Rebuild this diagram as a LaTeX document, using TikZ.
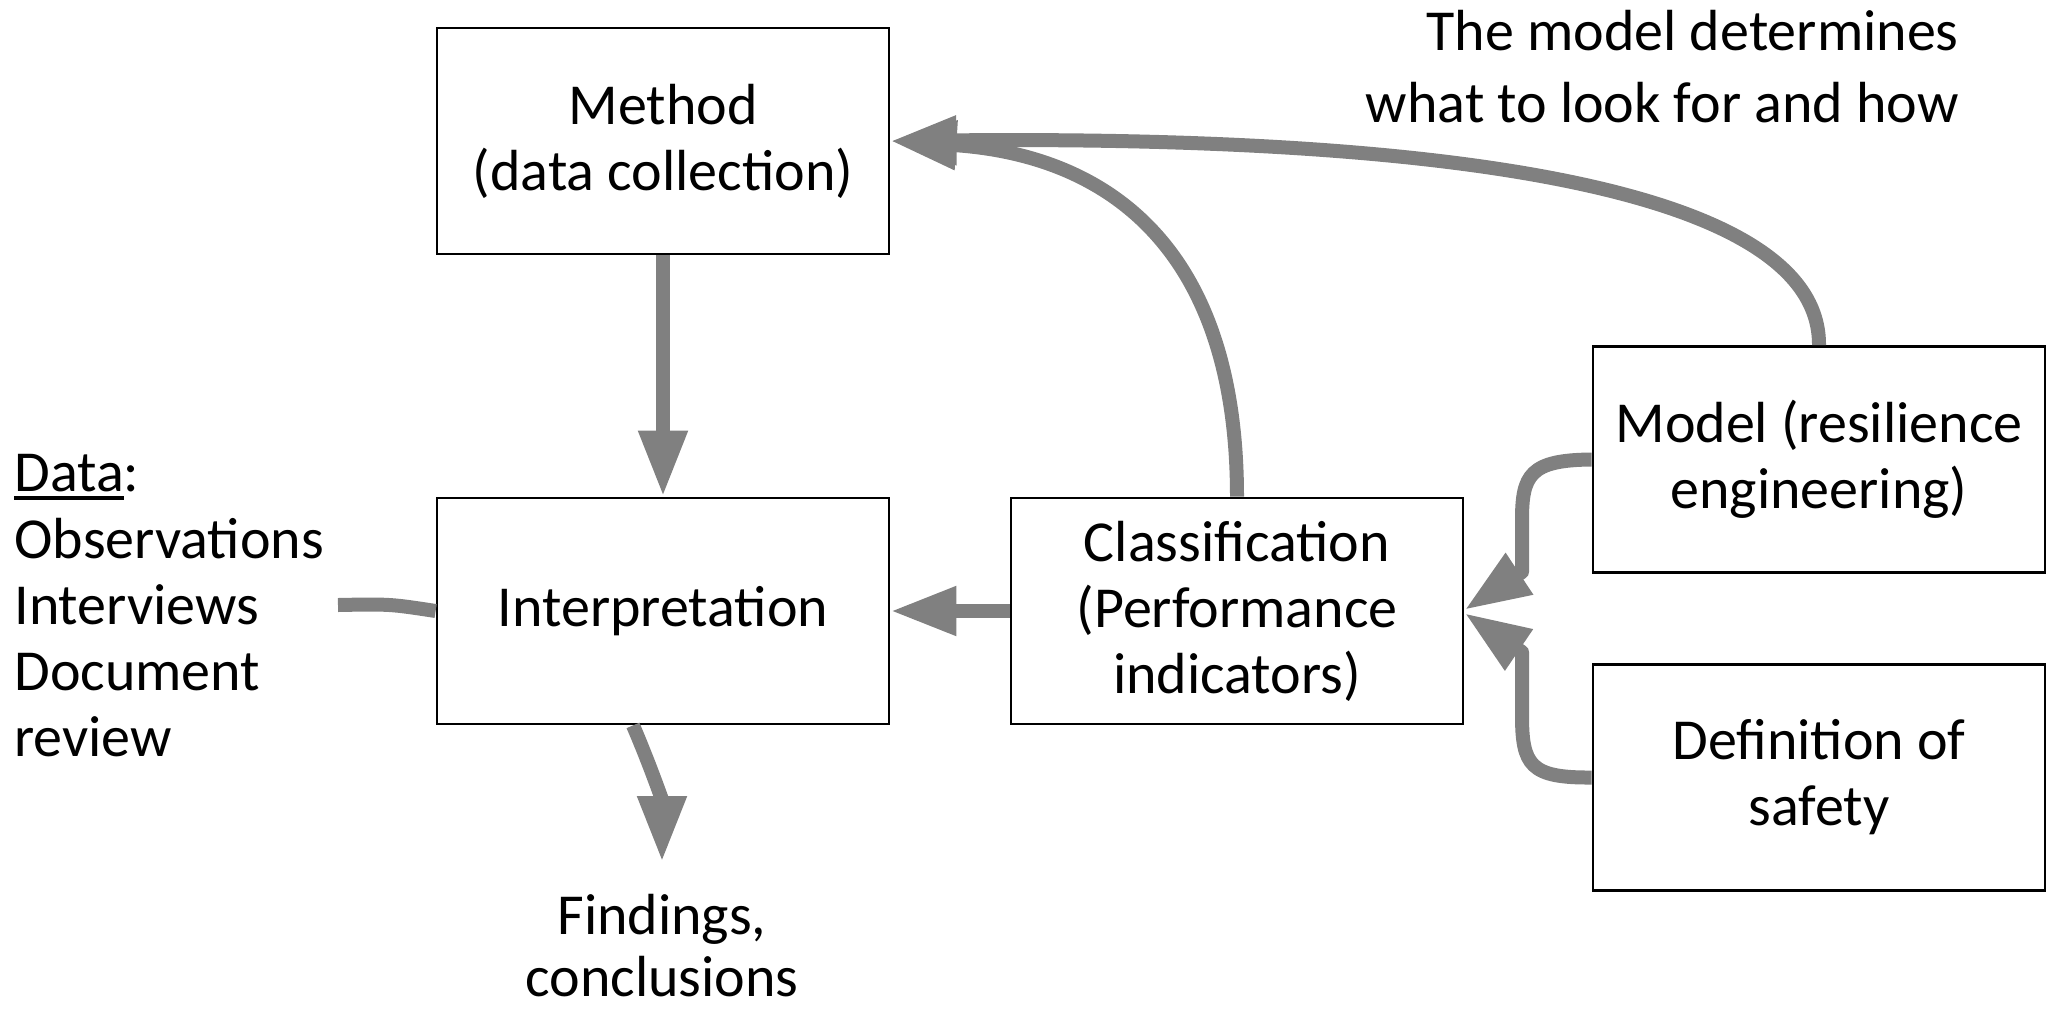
\documentclass[tikz,border=0pt]{standalone}
\usepackage{fontspec}
\setmainfont{Carlito}
\usetikzlibrary{arrows.meta}
\definecolor{arrowgray}{HTML}{808080}
\newcommand\myuline[1]{\setbox0\hbox{#1}\rlap{\raisebox{-4.5pt}{\rule{\wd0}{2pt}}}\box0}
\begin{document}
\begin{tikzpicture}[x=0.5pt,y=-0.5pt,
  every node/.style={font=\fontsize{29}{33}\selectfont, inner sep=0pt},
  box/.style={draw=black, line width=1.4pt, minimum width=226pt, minimum height=113pt, align=center},
  flow/.style={draw=arrowgray, line width=7pt, line join=round},
  tipped/.style={-{Triangle[length=33pt,width=23pt]}, arrowgray}
]
\useasboundingbox (0,0) rectangle (2056,1013);

% boxes
\node[box] (method)  at (663,141)    {Method\\(data collection)};
\node[box] (interp)  at (663,611)    {Interpretation};
\node[box] (classif) at (1237,611)   {Classification\\(Performance\\indicators)};
\node[box] (model)   at (1819,459.5) {Model (resilience\\engineering)};
\node[box] (defn)    at (1819,777.5) {Definition of\\safety};

% free texts
\node[anchor=base east] (note1) at (1959,50)  {The model determines};
\node[anchor=base east] (note2) at (1959,122) {what to look for and how};

\node[anchor=base west] (data0) at (14,491) {\myuline{Data}:};
\node[anchor=base west] (data1) at (14,558) {Observations};
\node[anchor=base west] (data2) at (14,624) {Interviews};
\node[anchor=base west] (data3) at (14,690) {Document};
\node[anchor=base west] (data4) at (14,756) {review};

\node[anchor=base] (find1) at (662,934)  {Findings,};
\node[anchor=base] (find2) at (662,996) {conclusions};

\coordinate (datastart) at (338,605);
\coordinate (findtip) at (662,862);

% connectors
\draw[flow,tipped] (method.south) -- (interp.north);
\draw[flow,tipped] (classif.west) -- (interp.east);
\draw[flow,tipped] (model.north) .. controls (1820,200) and (1500,135) .. (method.east);
\draw[flow,tipped] (classif.north) .. controls (1237,250) and (1110,155) .. (method.east);
\draw[flow,tipped] (model.west) .. controls (1530,460) and (1522,475) .. (1522,520)
   -- (1522,572) -- ([yshift=0.5pt]classif.east);
\draw[flow,tipped] (defn.west) .. controls (1530,778) and (1522,765) .. (1522,715)
   -- (1522,652) -- ([yshift=-1pt]classif.east);
\draw[flow] (datastart) .. controls (390,604) .. (interp.west);
\draw[flow,tipped] ([xshift=-15pt]interp.south) .. controls (650,765) and (662,800) .. (findtip);
\end{tikzpicture}
\end{document}
